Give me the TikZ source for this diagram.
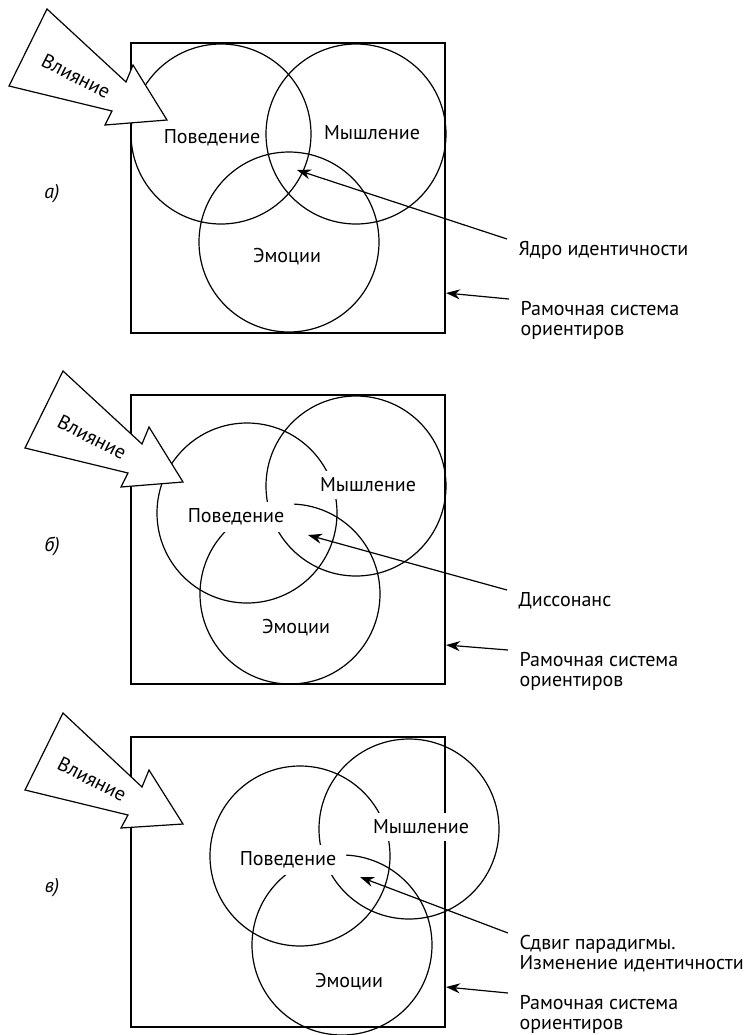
\documentclass[tikz,border=0pt]{standalone}
\usepackage{fontspec}
\setmainfont{PT Sans}
\usetikzlibrary{arrows.meta}
\tikzset{
  ring/.style={draw, circle, minimum size=90pt, inner sep=0pt},
  word/.style={fill=white, inner xsep=5pt, inner ysep=3.5pt, font=\fontsize{10}{10}\selectfont},
  note/.style={anchor=north west, align=left, inner xsep=5.5pt, inner ysep=1pt, font=\fontsize{10}{10}\selectfont},
  pointer/.style={-{Stealth[length=7pt,width=5pt]}},
  impact/.style={draw, fill=white, line join=miter},
  frame/.style={draw, inner sep=0pt, minimum width=157pt},
  tag/.style={font=\itshape\fontsize{10}{10}\selectfont}
}
\begin{document}
\begin{tikzpicture}[x=0.5pt, y=-0.5pt, line width=0.6pt]
\useasboundingbox (0,0) rectangle (746,1035);

\node [frame, minimum height=145pt] (frma) at (288,188) {};
\node [frame, minimum height=144.5pt] (frmb) at (288,539.5) {};
\node [frame, minimum height=145pt] (frmc) at (288,882) {};

\node [ring] (beha) at (221,134) {};
\node [ring] (thia) at (356,134) {};
\node [ring] (emoa) at (289,242) {};
\node [ring] (behb) at (247,513) {};
\node [ring] (thib) at (356,486) {};
\node [ring] (emob) at (290,594) {};
\node [ring] (behc) at (300,856) {};
\node [ring] (thic) at (409,829) {};
\node [ring] (emoc) at (342,945) {};

\node [word, fill=none] (wbeha) at (212,138) {Поведение};
\node [word, fill=none] (wthia) at (372,133) {Мышление};
\node [word, fill=none] (wemoa) at (287,257) {Эмоции};
\node [word] (wbehb) at (236,517) {Поведение};
\node [word] (wthib) at (368,485) {Мышление};
\node [word] (wemob) at (296,628) {Эмоции};
\node [word] (wbehc) at (288,860) {Поведение};
\node [word] (wthic) at (421,827) {Мышление};
\node [word] (wemoc) at (349,982) {Эмоции};

\draw [impact] (47,9) -- (126,82) -- (133,65) -- (167,120) -- (105,125) -- (112,111) -- (9,86) -- cycle;
\draw [impact] (63,371) -- (142,444) -- (149,427) -- (183,482) -- (121,487) -- (128,473) -- (25,448) -- cycle;
\draw [impact] (63,713) -- (142,787) -- (149,770) -- (183,824) -- (121,828) -- (128,815) -- (25,790) -- cycle;
\node [rotate=-27, font=\fontsize{10}{10}\selectfont] (infa) at (76,76) {Влияние};
\node [rotate=-27, font=\fontsize{10}{10}\selectfont] (infb) at (92,437) {Влияние};
\node [rotate=-27, font=\fontsize{10}{10}\selectfont] (infc) at (92,779) {Влияние};

\node [tag] (taga) at (52,194) {а)};
\node [tag] (tagb) at (52,546) {б)};
\node [tag] (tagc) at (52,888) {в)};

\coordinate (corea) at (297,170);
\coordinate (coreb) at (308,535);
\coordinate (corec) at (360,877);
\coordinate (edgea) at (446,293);
\coordinate (edgeb) at (446,645);
\coordinate (edgec) at (446,987);

\node [note] (lcorea) at (507,239) {Ядро идентичности};
\node [note] (lframea) at (509,299) {Рамочная система\\ориентиров};
\node [note] (lcoreb) at (507,590) {Диссонанс};
\node [note] (lframeb) at (508,650) {Рамочная система\\ориентиров};
\node [note] (lcorec) at (508,933) {Сдвиг парадигмы.\\Изменение идентичности};
\node [note] (lframec) at (508,993) {Рамочная система\\ориентиров};

\draw [pointer] (lcorea.north west) -- (corea);
\draw [pointer] (lframea.north west) -- (edgea);
\draw [pointer] (lcoreb.north west) -- (coreb);
\draw [pointer] (lframeb.north west) -- (edgeb);
\draw [pointer] (lcorec.north west) -- (corec);
\draw [pointer] (lframec.north west) -- (edgec);
\end{tikzpicture}
\end{document}
